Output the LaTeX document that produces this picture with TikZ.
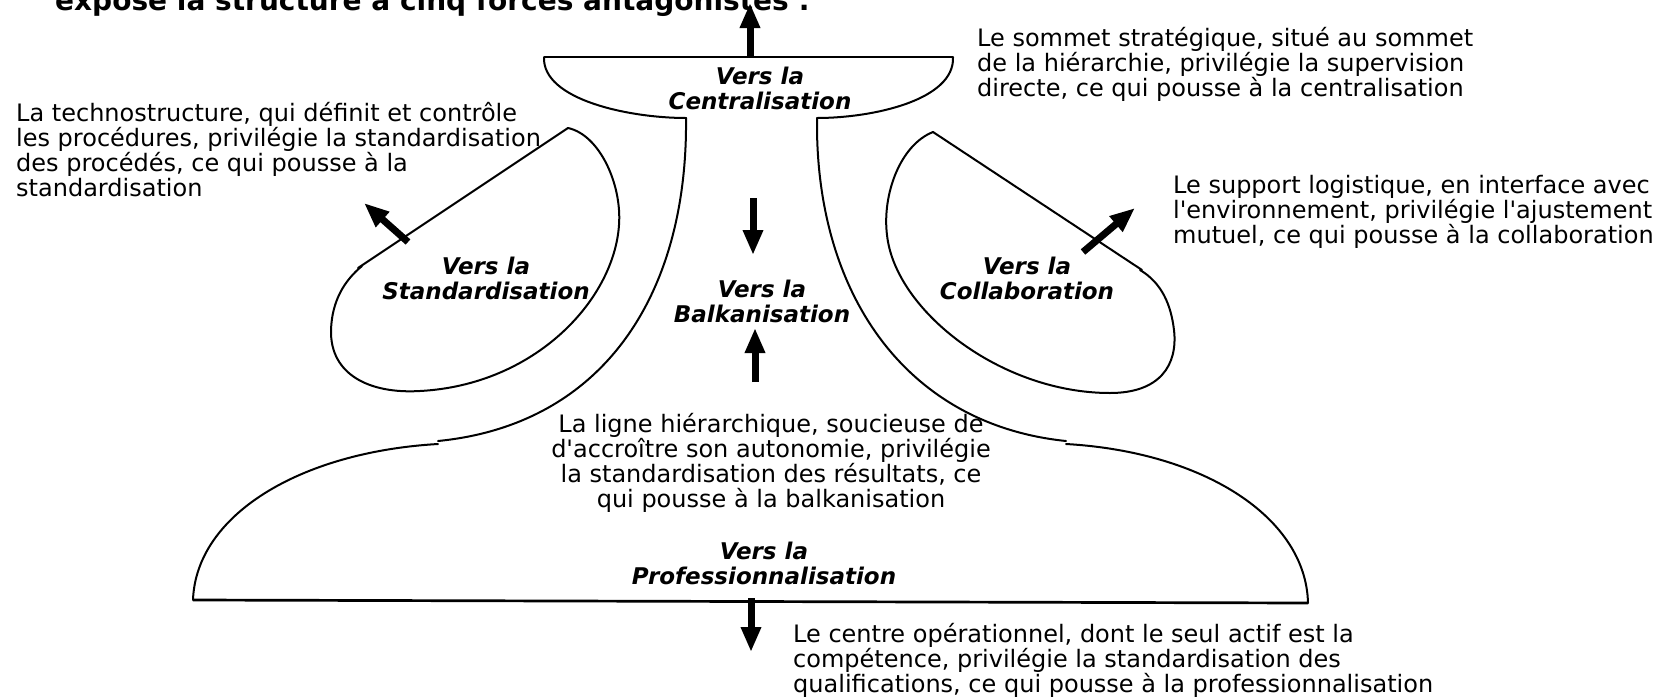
\documentclass[tikz,border=0pt]{standalone}
\usepackage{fontspec}
\setmainfont{DejaVu Sans}[Ligatures=TeXOff,BoldFont=DejaVu Sans Bold,ItalicFont=DejaVu Sans Oblique,BoldItalicFont=DejaVu Sans Bold Oblique]
\usetikzlibrary{arrows.meta}
\begin{document}
\begin{tikzpicture}[x=1pt,y=-1pt,
  outline/.style={line width=2pt,line join=round,line cap=round},
  rule/.style={line width=2.7pt},
  force/.style={line width=7pt,-{Triangle[length=25pt,width=19pt]}},
  body/.style={font=\fontsize{24}{25}\selectfont,inner sep=0pt,align=left,anchor=base west},
  bodyc/.style={font=\fontsize{24}{25}\selectfont,inner sep=0pt,align=center,anchor=base},
  lbl/.style={font=\fontsize{23}{25}\selectfont\bfseries\itshape,inner sep=0pt,align=center,anchor=base},
  ttl/.style={font=\fontsize{28}{30}\selectfont\bfseries,inner sep=0pt,anchor=base west}]
\useasboundingbox (0,0) rectangle (1674,697);
\clip (0,0) rectangle (1674,697);

% title (cut at the top)
\node[ttl] (title) at (55,10) {expose la structure à cinq forces antagonistes :};

% top bowl
\coordinate (tl) at (544,57); \coordinate (tr) at (953,57);
\coordinate (nl) at (686,118); \coordinate (nr) at (817,118);
\draw[rule] (tl) -- (tr);
\draw[outline] (tl) .. controls (542,100) and (630,118) .. (nl);
\draw[outline] (tr) .. controls (955,100) and (873,118) .. (nr);

% neck
\coordinate (shl) at (438,441); \coordinate (shr) at (1066,441);
\draw[outline] (nl) -- (686,130) .. controls (684,300) and (600,425) .. (shl);
\draw[outline] (nr) -- (817,130) .. controls (819,300) and (910,425) .. (shr);

% bottom bowl
\coordinate (bl) at (193,600); \coordinate (br) at (1308,603);
\draw[outline] (438,444) .. controls (300,452) and (196,515) .. (bl);
\draw[outline] (1066,444) .. controls (1205,452) and (1306,518) .. (br);
\draw[rule] (bl) -- (br);

% left blob
\coordinate (sa) at (568,128); \coordinate (sb) at (358,268);
\draw[outline] (sa) -- (sb);
\draw[outline] (sa) .. controls (600,135) and (622,185) .. (619,225)
  .. controls (614,300) and (535,385) .. (420,391)
  .. controls (370,394) and (330,375) .. (331,330)
  .. controls (332,300) and (345,280) .. (362,266);

% right blob
\coordinate (ca) at (933,132); \coordinate (cb) at (1142,270);
\draw[outline] (ca) -- (cb);
\draw[outline] (ca) .. controls (900,145) and (882,195) .. (887,235)
  .. controls (895,310) and (1000,393) .. (1110,393)
  .. controls (1160,393) and (1178,365) .. (1174,330)
  .. controls (1171,305) and (1162,283) .. (1140,270);

% arrows
\coordinate (a1s) at (750,56);  \coordinate (a1e) at (750,3);
\coordinate (a2s) at (751,598); \coordinate (a2e) at (751,652);
\coordinate (a3s) at (753,198); \coordinate (a3e) at (753,255);
\coordinate (a4s) at (755,382); \coordinate (a4e) at (755,328);
\coordinate (a5s) at (408,242); \coordinate (a5e) at (364,203);
\coordinate (a6s) at (1083,252); \coordinate (a6e) at (1135,208);
\draw[force] (a1s) -- (a1e);
\draw[force] (a2s) -- (a2e);
\draw[force] (a3s) -- (a3e);
\draw[force] (a4s) -- (a4e);
\draw[force] (a5s) -- (a5e);
\draw[force] (a6s) -- (a6e);

% labels (anchor = baseline of the last line)
\node[lbl] (lcen) at (760,109) {Vers la\\Centralisation};
\node[lbl] (lsta) at (486,299) {Vers la\\Standardisation};
\node[lbl] (lbal) at (762,322) {Vers la\\Balkanisation};
\node[lbl] (lcol) at (1027,299) {Vers la\\Collaboration};
\node[lbl] (lpro) at (764,584) {Vers la\\Professionnalisation};

% texts (anchor = baseline of the last line)
\node[body] (tsom) at (977,96) {Le sommet stratégique, situé au sommet\\de la hiérarchie, privilégie la supervision\\directe, ce qui pousse à la centralisation};
\node[body] (ttec) at (16,196) {La technostructure, qui définit et contrôle\\les procédures, privilégie la standardisation\\des procédés, ce qui pousse à la\\standardisation};
\node[body] (tsup) at (1173,243) {Le support logistique, en interface avec\\l'environnement, privilégie l'ajustement\\mutuel, ce qui pousse à la collaboration};
\node[bodyc] (tlig) at (771,507) {La ligne hiérarchique, soucieuse de\\d'accroître son autonomie, privilégie\\la standardisation des résultats, ce\\qui pousse à la balkanisation};
\node[body] (tope) at (793,692) {Le centre opérationnel, dont le seul actif est la\\compétence, privilégie la standardisation des\\qualifications, ce qui pousse à la professionnalisation};
\end{tikzpicture}
\end{document}
